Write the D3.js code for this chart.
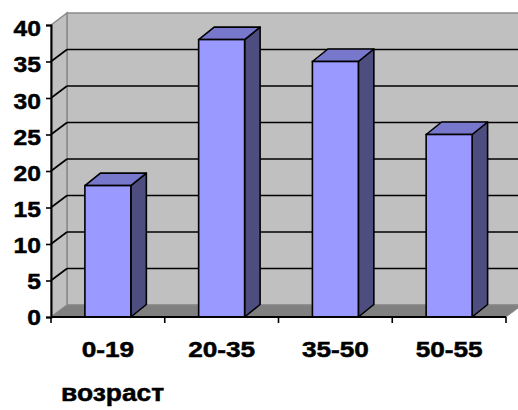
<!DOCTYPE html>
<html>
<head>
<meta charset="utf-8">
<script src="https://cdn.jsdelivr.net/npm/d3@7"></script>
<style>
  html, body { margin: 0; padding: 0; background: #fff; }
  svg { display: block; }
  text { font-family: "Liberation Sans", Arial, sans-serif; font-weight: bold; fill: #000; stroke: #000; stroke-width: 0.5px; }
</style>
</head>
<body>
<svg id="chart" width="518" height="410"></svg>
<script>
// Age groups and respondent counts
const categories = ["0-19", "20-35", "35-50", "50-55"];
const values = [18, 38, 35, 25];
const yTicks = [0, 5, 10, 15, 20, 25, 30, 35, 40];
const axisTitle = "возраст";

const plotLeft = 51, plotRight = 506, plotTop = 25, plotBottom = 317;
const dx = 16, dy = 12;            // depth offset of the 3-D box
const barDx = 15.5, barDy = 12.5;  // depth of each column

const svg = d3.select("#chart");

const y = d3.scaleLinear().domain([0, 40]).range([plotBottom, plotTop]);
const yLabel = d3.scaleLinear().domain([0, 40]).range([plotBottom, 28.5]);
const xBand = d3.scaleBand().domain(categories).range([plotLeft, plotRight])
  .paddingInner(0.596).paddingOuter(0.298);
const xSlot = d3.scaleBand().domain(categories).range([plotLeft, plotRight]).padding(0);

const pts = a => a.map(p => p.join(",")).join(" ");

// back wall
svg.append("polygon")
  .attr("points", pts([[plotLeft + dx, y(40) - dy], [plotRight + dx, y(40) - dy], [plotRight + dx, plotBottom - dy], [plotLeft + dx, plotBottom - dy]]))
  .attr("fill", "#c0c0c0").attr("stroke", "#8a8a8a").attr("stroke-width", 1.5);

// side wall
svg.append("polygon")
  .attr("points", pts([[plotLeft, y(40)], [plotLeft + dx, y(40) - dy], [plotLeft + dx, plotBottom - dy], [plotLeft, plotBottom]]))
  .attr("fill", "#c0c0c0").attr("stroke", "#8a8a8a").attr("stroke-width", 1.5);

// floor
svg.append("polygon")
  .attr("points", pts([[plotLeft, plotBottom], [plotRight, plotBottom], [plotRight + dx, plotBottom - dy], [plotLeft + dx, plotBottom - dy]]))
  .attr("fill", "#808080").attr("stroke", "#8a8a8a").attr("stroke-width", 1);

// gridlines on back and side walls
const inner = yTicks.filter(v => v > 0 && v < 40);
svg.append("g").selectAll("line").data(inner).join("line")
  .attr("x1", plotLeft + dx).attr("x2", plotRight + dx)
  .attr("y1", d => y(d) - dy).attr("y2", d => y(d) - dy)
  .attr("stroke", "#000").attr("stroke-width", 1.6);
svg.append("g").selectAll("line").data(inner).join("line")
  .attr("x1", plotLeft).attr("x2", plotLeft + dx)
  .attr("y1", d => y(d)).attr("y2", d => y(d) - dy)
  .attr("stroke", "#000").attr("stroke-width", 1.6);

// columns
const bars = svg.append("g").selectAll("g").data(categories.map((c, i) => ({ c, v: values[i] }))).join("g");
bars.each(function (d) {
  const g = d3.select(this);
  const x0 = xBand(d.c), x1 = x0 + xBand.bandwidth();
  const yt = y(d.v);
  g.append("polygon")
    .attr("points", pts([[x1, yt], [x1 + barDx, yt - barDy], [x1 + barDx, plotBottom - barDy], [x1, plotBottom]]))
    .attr("fill", "#4d4d80").attr("stroke", "#000").attr("stroke-width", 1.6).attr("stroke-linejoin", "round");
  g.append("polygon")
    .attr("points", pts([[x0, yt], [x0 + barDx, yt - barDy], [x1 + barDx, yt - barDy], [x1, yt]]))
    .attr("fill", "#7777cc").attr("stroke", "#000").attr("stroke-width", 1.6).attr("stroke-linejoin", "round");
  g.append("rect")
    .attr("x", x0).attr("y", yt).attr("width", x1 - x0).attr("height", plotBottom - yt)
    .attr("fill", "#9999ff").attr("stroke", "#000").attr("stroke-width", 1.6);
});

// value axis
const yAxis = svg.append("g").attr("transform", `translate(${plotLeft},0)`)
  .call(d3.axisLeft(y).tickValues(yTicks).tickSize(5).tickFormat(""));
yAxis.select(".domain").attr("stroke", "#000").attr("stroke-width", 2);
yAxis.selectAll(".tick line").attr("stroke", "#000").attr("stroke-width", 1.6);

svg.append("g").selectAll("text").data(yTicks).join("text")
  .attr("transform", d => `translate(41,${yLabel(d)}) scale(1.12,1)`)
  .attr("text-anchor", "end").attr("dy", "0.358em")
  .style("font-size", "22px")
  .text(d => d);

// category axis
const slotEdges = categories.map(c => xSlot(c)).concat([plotRight]);
svg.append("line").attr("x1", plotLeft).attr("x2", plotRight).attr("y1", plotBottom).attr("y2", plotBottom)
  .attr("stroke", "#000").attr("stroke-width", 2);
svg.append("g").selectAll("line").data(slotEdges).join("line")
  .attr("x1", d => d).attr("x2", d => d).attr("y1", plotBottom).attr("y2", plotBottom + 6)
  .attr("stroke", "#000").attr("stroke-width", 1.6);

svg.append("g").selectAll("text").data(categories).join("text")
  .attr("transform", d => `translate(${xSlot(d) + xSlot.bandwidth() / 2},356.5) scale(1.19,1)`)
  .attr("text-anchor", "middle")
  .style("font-size", "22px")
  .text(d => d);

// axis title
svg.append("text")
  .attr("transform", "translate(61,401) scale(1.1,1)")
  .style("font-size", "24px")
  .text(axisTitle);
</script>
</body>
</html>
